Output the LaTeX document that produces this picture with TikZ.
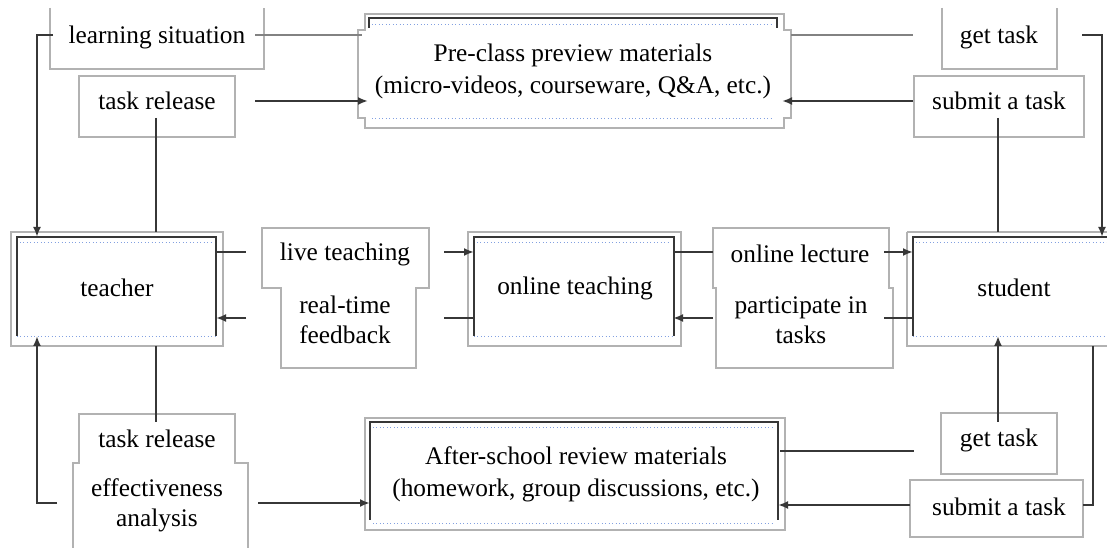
\documentclass[tikz,border=0pt]{standalone}
\usepackage{fontspec}
\setmainfont{Liberation Serif}
\usetikzlibrary{arrows.meta}
\definecolor{boxgray}{RGB}{178,178,178}
\definecolor{linegray}{RGB}{55,55,55}
\definecolor{midgray}{RGB}{130,130,130}
\definecolor{dotblue}{RGB}{130,160,225}
\begin{document}
\begin{tikzpicture}[x=0.75pt,y=-0.75pt,
  lbl/.style={font=\fontsize{19}{24}\selectfont, align=center, inner sep=0pt, text=black},
  lblb/.style={font=\fontsize{19}{22.5}\selectfont, align=center, inner sep=0pt, text=black},
  light/.style={draw=boxgray, line width=0.8pt},
  conn/.style={draw=linegray, line width=1.5pt},
  connlight/.style={draw=midgray, line width=1.1pt},
  arr/.style={conn, -{Latex[length=7.5pt,width=6pt]}},
  innerline/.style={draw=linegray, line width=1.6pt},
  dots/.style={draw=dotblue, line width=0.6pt, dotted}]
\useasboundingbox (0,0) rectangle (1107,548);
\fill[white] (0,0) rectangle (1107,548);

% ---------- top row boxes ----------
\draw[light] (50,8) -- (50,69) -- (264,69) -- (264,8);
\node[lbl] (ls) at (157,37) {learning situation};
\draw[light] (79,76) rectangle (235,137);
\node[lbl] (tr1) at (157,101) {task release};

\draw[light] (365,14) -- (784,14) -- (784,30) -- (791,30) -- (791,118) -- (784,118) -- (784,128)
  -- (365,128) -- (365,118) -- (358,118) -- (358,30) -- (365,30) -- cycle;
\draw[innerline] (369,28) -- (369,18) -- (777,18) -- (777,28);
\draw[dots] (372,24) -- (774,24);
\draw[dots] (372,118) -- (774,118);
\node[lbl] (pre) at (573,71) {Pre-class preview materials\\(micro-videos, courseware, Q\&A, etc.)};

\draw[light] (942,8) -- (942,69) -- (1057,69) -- (1057,8);
\node[lbl] (gt1) at (999,37) {get task};
\draw[light] (914,76) rectangle (1084,137);
\node[lbl] (st1) at (999,101) {submit a task};

% ---------- middle row boxes ----------
\draw[light] (11,232) rectangle (223,346);
\draw[innerline] (17,336) -- (17,237) -- (216,237) -- (216,336);
\draw[dots] (20,242) -- (213,242);
\draw[dots] (17,336) -- (216,336);
\node[lbl] (teacher) at (117,288) {teacher};

\draw[light] (262,228) -- (429,228) -- (429,288) -- (416,288) -- (416,368) -- (281,368) -- (281,288) -- (262,288) -- cycle;
\node[lbl] (live) at (345,254) {live teaching};
\node[lblb] (rtf) at (345,320) {real-time\\feedback};

\draw[light] (468,232) rectangle (681,346);
\draw[innerline] (474,336) -- (474,237) -- (674,237) -- (674,336);
\draw[dots] (477,242) -- (671,242);
\draw[dots] (474,336) -- (674,336);
\node[lbl] (ot) at (575,288) {online teaching};

\draw[light] (713,228) -- (889,228) -- (889,288) -- (893,288) -- (893,368) -- (716,368) -- (716,288) -- (713,288) -- cycle;
\node[lbl] (ol) at (800,254) {online lecture};
\node[lblb] (pit) at (801,320) {participate in\\tasks};

\draw[light] (907,232) -- (1112,232) (907,232) -- (907,346) -- (1112,346);
\draw[innerline] (913,336) -- (913,237) -- (1112,237);
\draw[dots] (916,242) -- (1112,242);
\draw[dots] (913,336) -- (1112,336);
\node[lbl] (student) at (1014,288) {student};

% ---------- bottom row boxes ----------
\draw[light] (73,552) -- (73,463) -- (79,463) -- (79,414) -- (235,414) -- (235,463) -- (248,463) -- (248,552);
\node[lbl] (tr2) at (157,439) {task release};
\node[lblb] (ea) at (157,505) {effectiveness\\analysis};

\draw[light] (365,418) rectangle (785,530);
\draw[innerline] (370,520) -- (370,422) -- (778,422) -- (778,520);
\draw[dots] (373,427) -- (775,427);
\draw[dots] (373,523) -- (775,523);
\node[lbl] (after) at (576,474) {After-school review materials\\(homework, group discussions, etc.)};

\draw[light] (941,413) rectangle (1057,474);
\node[lbl] (gt2) at (999,440) {get task};
\draw[light] (910,480) rectangle (1083,537);
\node[lbl] (st2) at (999,507) {submit a task};

% ---------- connection points ----------
\coordinate (lsL) at (53,35);
\coordinate (lsR) at (255,35);
\coordinate (preLt) at (362,35);
\coordinate (preRt) at (791,35);
\coordinate (gt1L) at (913,35);
\coordinate (gt1R) at (1082,35);
\coordinate (tr1R) at (255,101);
\coordinate (preLa) at (368,101);
\coordinate (st1L) at (913,101);
\coordinate (preRa) at (782,101);
\coordinate (tr1B) at (156,118);
\coordinate (st1B) at (998,118);
\coordinate (teaT) at (156,232);
\coordinate (teaTa) at (37,237);
\coordinate (stuT) at (998,232);
\coordinate (stuTa) at (1102,237);

\coordinate (teaR1) at (216,252);
\coordinate (liveL) at (246,252);
\coordinate (liveR) at (444,252);
\coordinate (otL1) at (474,252);
\coordinate (otR1) at (673,252);
\coordinate (olL) at (713,252);
\coordinate (olR) at (884,252);
\coordinate (stuL1) at (913,252);
\coordinate (stuL2) at (913,318);
\coordinate (pitR) at (884,318);
\coordinate (pitL) at (713,318);
\coordinate (otR2) at (673,318);
\coordinate (otL2) at (474,318);
\coordinate (rtfR) at (444,318);
\coordinate (rtfL) at (246,318);
\coordinate (teaR2) at (216,318);

\coordinate (teaB) at (156,346);
\coordinate (teaBa) at (37,336);
\coordinate (tr2T) at (156,422);
\coordinate (eaL) at (57,503);
\coordinate (eaR) at (258,503);
\coordinate (afterL) at (370,503);
\coordinate (afterRt) at (780,451);
\coordinate (gt2L) at (914,451);
\coordinate (gt2T) at (998,422);
\coordinate (stuBa) at (998,336);
\coordinate (stuB) at (1093,346);
\coordinate (st2R) at (1083,505);
\coordinate (st2L) at (910,505);
\coordinate (afterRa) at (778,505);

% ---------- connectors ----------
\draw[arr] (lsL) -- (lsL -| teaTa) -- (teaTa);
\draw[connlight] (lsR) -- (preLt);
\draw[connlight] (preRt) -- (gt1L);
\draw[arr] (gt1R) -- (gt1R -| stuTa) -- (stuTa);
\draw[arr] (tr1R) -- (preLa);
\draw[arr] (st1L) -- (preRa);
\draw[conn] (tr1B) -- (teaT);
\draw[conn] (st1B) -- (stuT);

\draw[conn] (teaR1) -- (liveL);
\draw[arr] (liveR) -- (otL1);
\draw[conn] (otR1) -- (olL);
\draw[arr] (olR) -- (stuL1);
\draw[conn] (stuL2) -- (pitR);
\draw[arr] (pitL) -- (otR2);
\draw[conn] (otL2) -- (rtfR);
\draw[arr] (rtfL) -- (teaR2);

\draw[conn] (teaB) -- (tr2T);
\draw[arr] (eaL) -- (eaL -| teaBa) -- (teaBa);
\draw[arr] (eaR) -- (afterL);
\draw[conn] (afterRt) -- (gt2L);
\draw[arr] (gt2T) -- (stuBa);
\draw[conn] (stuB) -- (stuB |- st2R) -- (st2R);
\draw[arr] (st2L) -- (afterRa);
\end{tikzpicture}
\end{document}
